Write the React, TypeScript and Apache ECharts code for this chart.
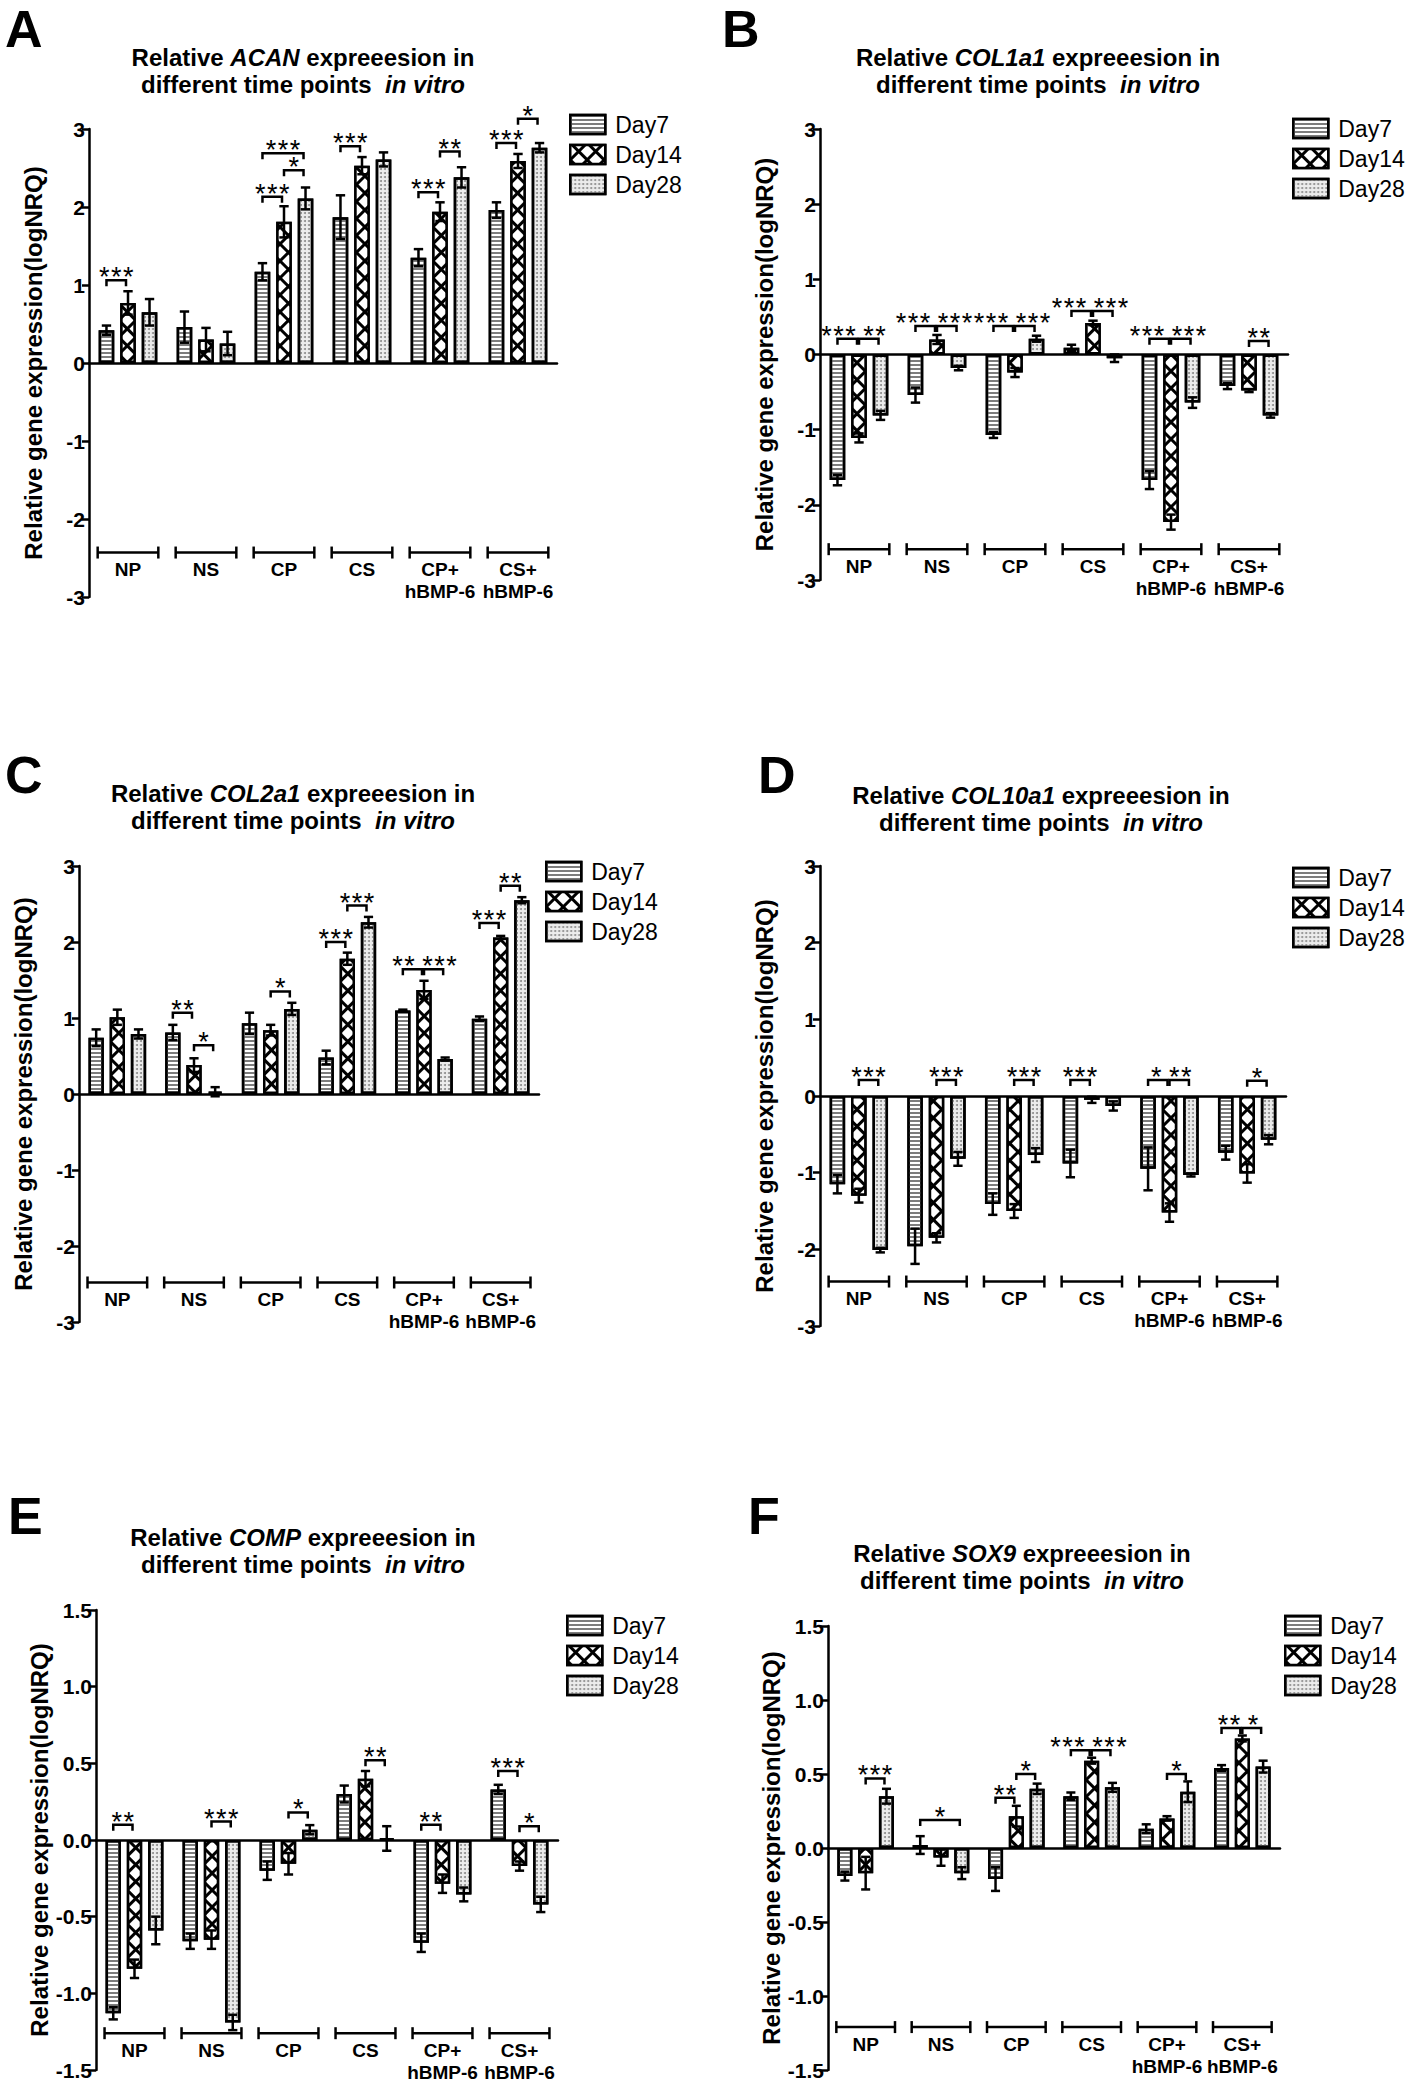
import React, { useEffect, useRef } from 'react';
import * as echarts from 'echarts';

const FONT = '"Liberation Sans", Arial, Helvetica, sans-serif';

const groups = ['NP', 'NS', 'CP', 'CS', 'CP+\nhBMP-6', 'CS+\nhBMP-6'];
const days = ['Day7', 'Day14', 'Day28'];
const ticksWide = ['-3', '-2', '-1', '0', '1', '2', '3'];
const ticksNarrow = ['-1.5', '-1.0', '-0.5', '0.0', '0.5', '1.0', '1.5'];

// A: ACAN
const acanDay7 = [0.42, 0.46, 1.17, 1.87, 1.35, 1.96];
const acanDay14 = [0.77, 0.30, 1.81, 2.53, 1.94, 2.59];
const acanDay28 = [0.65, 0.25, 2.11, 2.61, 2.38, 2.76];
const acanErr7 = [0.06, 0.20, 0.11, 0.28, 0.11, 0.10];
const acanErr14 = [0.15, 0.15, 0.20, 0.11, 0.12, 0.09];
const acanErr28 = [0.17, 0.15, 0.14, 0.09, 0.13, 0.06];
// [group, fromDay, toDay, y, label]
const acanSig: [number, number, number, number, string][] = [
  [0, 0, 1, 1.06, '***'], [2, 0, 1, 2.13, '***'], [2, 1, 2, 2.47, '*'], [2, 0, 2, 2.69, '***'],
  [3, 0, 1, 2.78, '***'], [4, 0, 1, 2.19, '***'], [4, 1, 2, 2.71, '**'], [5, 0, 1, 2.82, '***'], [5, 1, 2, 3.13, '*'],
];

// B: COL1a1
const col1Day7 = [-1.67, -0.54, -1.07, 0.09, -1.67, -0.42];
const col1Day14 = [-1.11, 0.20, -0.24, 0.42, -2.23, -0.48];
const col1Day28 = [-0.81, -0.18, 0.21, -0.05, -0.64, -0.81];
const col1Err7 = [0.07, 0.10, 0.04, 0.04, 0.12, 0.04];
const col1Err14 = [0.06, 0.06, 0.06, 0.03, 0.10, 0.02];
const col1Err28 = [0.06, 0.03, 0.04, 0.05, 0.07, 0.03];
const col1Sig: [number, number, number, number, string][] = [
  [0, 0, 1, 0.21, '***'], [0, 1, 2, 0.21, '**'], [1, 0, 1, 0.38, '***'], [1, 1, 2, 0.38, '***'],
  [2, 0, 1, 0.38, '***'], [2, 1, 2, 0.38, '***'], [3, 0, 1, 0.58, '***'], [3, 1, 2, 0.58, '***'],
  [4, 0, 1, 0.21, '***'], [4, 1, 2, 0.21, '***'], [5, 1, 2, 0.18, '**'],
];

// C: COL2a1
const col2Day7 = [0.74, 0.81, 0.93, 0.48, 1.10, 0.99];
const col2Day14 = [1.01, 0.38, 0.84, 1.78, 1.37, 2.06];
const col2Day28 = [0.79, 0.03, 1.12, 2.26, 0.46, 2.55];
const col2Err7 = [0.11, 0.10, 0.14, 0.09, 0.01, 0.03];
const col2Err14 = [0.10, 0.09, 0.07, 0.08, 0.12, 0.02];
const col2Err28 = [0.06, 0.06, 0.08, 0.07, 0.02, 0.04];
const col2Sig: [number, number, number, number, string][] = [
  [1, 0, 1, 1.07, '**'], [1, 1, 2, 0.64, '*'], [2, 1, 2, 1.35, '*'], [3, 0, 1, 2.0, '***'],
  [3, 1, 2, 2.48, '***'], [4, 0, 1, 1.64, '**'], [4, 1, 2, 1.64, '***'], [5, 0, 1, 2.25, '***'], [5, 1, 2, 2.74, '**'],
];

// D: COL10a1
const col10Day7 = [-1.15, -1.96, -1.41, -0.88, -0.95, -0.74];
const col10Day14 = [-1.30, -1.85, -1.50, -0.05, -1.52, -1.01];
const col10Day28 = [-2.01, -0.82, -0.77, -0.13, -1.03, -0.57];
const col10Err7 = [0.12, 0.23, 0.14, 0.18, 0.28, 0.09];
const col10Err14 = [0.09, 0.06, 0.09, 0.04, 0.12, 0.12];
const col10Err28 = [0.03, 0.09, 0.09, 0.06, 0.02, 0.06];
const col10Sig: [number, number, number, number, string][] = [
  [0, 1, 2, 0.21, '***'], [1, 1, 2, 0.21, '***'], [2, 1, 2, 0.21, '***'], [3, 0, 1, 0.21, '***'],
  [4, 0, 1, 0.21, '*'], [4, 1, 2, 0.21, '**'], [5, 1, 2, 0.2, '*'],
];

// E: COMP
const compDay7 = [-1.13, -0.66, -0.20, 0.30, -0.67, 0.33];
const compDay14 = [-0.84, -0.65, -0.155, 0.40, -0.285, -0.17];
const compDay28 = [-0.59, -1.19, 0.067, 0.01, -0.355, -0.42];
const compErr7 = [0.04, 0.05, 0.06, 0.055, 0.06, 0.03];
const compErr14 = [0.06, 0.06, 0.07, 0.05, 0.06, 0.03];
const compErr28 = [0.09, 0.05, 0.03, 0.08, 0.045, 0.05];
const compSig: [number, number, number, number, string][] = [
  [0, 0, 1, 0.10, '**'], [1, 1, 2, 0.12, '***'], [2, 1, 2, 0.18, '*'], [3, 1, 2, 0.52, '**'],
  [4, 0, 1, 0.10, '**'], [5, 0, 1, 0.45, '***'], [5, 1, 2, 0.09, '*'],
];

// F: SOX9
const sox9Day7 = [-0.19, 0.02, -0.21, 0.35, 0.13, 0.54];
const sox9Day14 = [-0.17, -0.065, 0.215, 0.59, 0.20, 0.74];
const sox9Day28 = [0.35, -0.17, 0.40, 0.41, 0.38, 0.55];
const sox9Err7 = [0.03, 0.06, 0.08, 0.025, 0.03, 0.02];
const sox9Err14 = [0.11, 0.055, 0.07, 0.02, 0.015, 0.02];
const sox9Err28 = [0.05, 0.04, 0.035, 0.03, 0.07, 0.04];
const sox9Sig: [number, number, number, number, string][] = [
  [0, 1, 2, 0.47, '***'], [1, 0, 2, 0.19, '*'], [2, 0, 1, 0.34, '**'], [2, 1, 2, 0.50, '*'],
  [3, 0, 1, 0.66, '***'], [3, 1, 2, 0.66, '***'], [4, 1, 2, 0.50, '*'], [5, 0, 1, 0.81, '**'], [5, 1, 2, 0.81, '*'],
];

const BAR_FRAC = 0.2;
const BAR_GAP = 0.38;
const STAR_STEP = 12;

const panels = [
  { letter: 'A', gene: 'ACAN', values: [acanDay7, acanDay14, acanDay28], errors: [acanErr7, acanErr14, acanErr28], sig: acanSig, groupY: -2.43, min: -3, max: 3, step: 1, ticks: ticksWide,
    grid: { left: 89, top: 129, width: 468, height: 468 }, title: [303, 44], letterPos: [5, 3], legend: [569, 113] },
  { letter: 'B', gene: 'COL1a1', values: [col1Day7, col1Day14, col1Day28], errors: [col1Err7, col1Err14, col1Err28], sig: col1Sig, groupY: -2.59, min: -3, max: 3, step: 1, ticks: ticksWide,
    grid: { left: 820, top: 129, width: 468, height: 451 }, title: [1038, 44], letterPos: [722, 3], legend: [1292, 117] },
  { letter: 'C', gene: 'COL2a1', values: [col2Day7, col2Day14, col2Day28], errors: [col2Err7, col2Err14, col2Err28], sig: col2Sig, groupY: -2.48, min: -3, max: 3, step: 1, ticks: ticksWide,
    grid: { left: 79, top: 866, width: 460, height: 456 }, title: [293, 780], letterPos: [5, 749], legend: [545, 860] },
  { letter: 'D', gene: 'COL10a1', values: [col10Day7, col10Day14, col10Day28], errors: [col10Err7, col10Err14, col10Err28], sig: col10Sig, groupY: -2.42, min: -3, max: 3, step: 1, ticks: ticksWide,
    grid: { left: 820, top: 866, width: 466, height: 460 }, title: [1041, 782], letterPos: [758, 749], legend: [1292, 866] },
  { letter: 'E', gene: 'COMP', values: [compDay7, compDay14, compDay28], errors: [compErr7, compErr14, compErr28], sig: compSig, groupY: -1.26, min: -1.5, max: 1.5, step: 0.5, ticks: ticksNarrow,
    grid: { left: 96, top: 1610, width: 462, height: 460 }, title: [303, 1524], letterPos: [8, 1490], legend: [566, 1614] },
  { letter: 'F', gene: 'SOX9', values: [sox9Day7, sox9Day14, sox9Day28], errors: [sox9Err7, sox9Err14, sox9Err28], sig: sox9Sig, groupY: -1.21, min: -1.5, max: 1.5, step: 0.5, ticks: ticksNarrow,
    grid: { left: 828, top: 1626, width: 452, height: 444 }, title: [1022, 1540], letterPos: [748, 1490], legend: [1284, 1614] },
];

const dayStyles = [
  { color: '#ffffff', decal: { symbol: 'rect', symbolSize: 1, color: '#7d7d7d', dashArrayX: [1, 0], dashArrayY: [2, 2], rotation: 0 } },
  { color: '#000000', decal: { symbol: 'rect', symbolSize: 1, color: '#ffffff', dashArrayX: [9, 3], dashArrayY: [9, 3], rotation: Math.PI / 4 } },
  { color: '#ececec', decal: { symbol: 'circle', symbolSize: 1, color: '#8c8c8c', dashArrayX: [2, 2], dashArrayY: [2, 2], rotation: 0 } },
];

const starWidth = (n: number) => (n - 1) * STAR_STEP + 10;

// horizontal shift of a significance label so that labels of touching brackets do not collide
function labelShift(sig: [number, number, number, number, string][], idx: number, stp: number) {
  const s = sig[idx];
  const center = (t: [number, number, number, number, string]) => ((t[1] + t[2]) / 2) * stp;
  let shift = 0;
  sig.forEach((o, j) => {
    if (j === idx || o[0] !== s[0] || Math.abs(o[3] - s[3]) > 1e-6) return;
    const isRight = o[1] === s[2];
    const isLeft = o[2] === s[1];
    if (!isRight && !isLeft) return;
    const sep = Math.abs(center(o) - center(s));
    const need = (starWidth(s[4].length) + starWidth(o[4].length)) / 2 + 8 - sep;
    if (need > 0) shift += isRight ? -need * 0.6 : need * 0.4;
  });
  return shift;
}

function buildOption() {
  const grid: any[] = [];
  const xAxis: any[] = [];
  const yAxis: any[] = [];
  const title: any[] = [];
  const legend: any[] = [];
  const series: any[] = [];

  panels.forEach((p, pi) => {
    grid.push({ ...p.grid, containLabel: false });
    xAxis.push({
      gridIndex: pi, type: 'category', data: groups,
      axisLine: { show: true, onZero: true, lineStyle: { color: '#000', width: 2.5 } },
      axisTick: { show: false }, axisLabel: { show: false }, splitLine: { show: false },
    });
    yAxis.push({
      gridIndex: pi, type: 'value', min: p.min, max: p.max, interval: p.step,
      axisLine: { show: true, onZero: false, lineStyle: { color: '#000', width: 2.5 } },
      axisTick: { show: true, length: 7, lineStyle: { color: '#000', width: 2.5 } },
      axisLabel: {
        fontSize: 21, fontWeight: 'bold', fontFamily: FONT, color: '#000', margin: 4,
        formatter: (v: number) => p.ticks[Math.round((v - p.min) / p.step)] ?? String(v),
      },
      splitLine: { show: false },
      name: 'Relative gene expression(logNRQ)', nameLocation: 'middle', nameGap: 44,
      nameTextStyle: { fontSize: 24, fontWeight: 'bold', fontFamily: FONT, color: '#000' },
    });
    title.push({
      text: `{n|Relative }{i|${p.gene}}{n| expreeesion in}\n{n|different time points  }{i|in vitro}`,
      left: p.title[0], top: p.title[1], textAlign: 'center', padding: 0,
      textStyle: {
        rich: {
          n: { fontSize: 24, fontWeight: 'bold', fontFamily: FONT, color: '#000', lineHeight: 27 },
          i: { fontSize: 24, fontWeight: 'bold', fontStyle: 'italic', fontFamily: FONT, color: '#000', lineHeight: 27 },
        },
      },
    });
    title.push({
      text: p.letter, left: p.letterPos[0], top: p.letterPos[1], padding: 0,
      textStyle: { fontSize: 52, fontWeight: 'bold', fontFamily: FONT, color: '#000' },
    });
    legend.push({
      data: days, orient: 'vertical', left: p.legend[0], top: p.legend[1], padding: 0,
      itemWidth: 35, itemHeight: 19, itemGap: 7, icon: 'rect', selectedMode: false,
      itemStyle: { borderColor: '#000', borderWidth: 2.5 },
      textStyle: { fontSize: 23, fontFamily: FONT, color: '#000', padding: [0, 0, 0, 5] },
    });

    days.forEach((d, di) => {
      series.push({
        type: 'bar', name: d, xAxisIndex: pi, yAxisIndex: pi,
        data: p.values[di], barWidth: `${BAR_FRAC * 100}%`, barGap: `${BAR_GAP * 100}%`,
        itemStyle: { color: dayStyles[di].color, borderColor: '#000', borderWidth: 2.5, decal: dayStyles[di].decal },
        z: 2, silent: true,
      });
    });

    const errData: number[][] = [];
    for (let s = 0; s < 3; s++) for (let c = 0; c < 6; c++) errData.push([c, s, p.values[s][c], p.errors[s][c]]);
    series.push({
      type: 'custom', xAxisIndex: pi, yAxisIndex: pi, z: 5, silent: true, data: errData,
      renderItem: (_params: any, api: any) => {
        const cat = api.value(0), si = api.value(1), v = api.value(2), e = api.value(3);
        const band = api.size([1, 0])[0];
        const bw = band * BAR_FRAC;
        const off = (si - 1) * bw * (1 + BAR_GAP);
        const top = api.coord([cat, v + e]);
        const bot = api.coord([cat, v - e]);
        const x = top[0] + off;
        const cap = bw * 0.3;
        const st = { stroke: '#000', lineWidth: 2.5 };
        return {
          type: 'group', children: [
            { type: 'line', shape: { x1: x, y1: top[1], x2: x, y2: bot[1] }, style: st },
            { type: 'line', shape: { x1: x - cap, y1: top[1], x2: x + cap, y2: top[1] }, style: st },
            { type: 'line', shape: { x1: x - cap, y1: bot[1], x2: x + cap, y2: bot[1] }, style: st },
          ],
        };
      },
    });

    series.push({
      type: 'custom', xAxisIndex: pi, yAxisIndex: pi, z: 6, silent: true,
      data: p.sig.map((s) => [s[0], s[3]]),
      renderItem: (params: any, api: any) => {
        const s = p.sig[params.dataIndex];
        const band = api.size([1, 0])[0];
        const bw = band * BAR_FRAC;
        const stp = bw * (1 + BAR_GAP);
        const base = api.coord([s[0], s[3]]);
        const x1 = base[0] + (s[1] - 1) * stp;
        const x2 = base[0] + (s[2] - 1) * stp - 2;
        const y = base[1];
        const n = s[4].length;
        const cx = (x1 + x2) / 2 + labelShift(p.sig, params.dataIndex, stp);
        const children: any[] = [
          { type: 'polyline', shape: { points: [[x1, y + 6], [x1, y], [x2, y], [x2, y + 6]] }, style: { stroke: '#000', lineWidth: 2.5, fill: 'none' } },
        ];
        for (let k = 0; k < n; k++) {
          children.push({
            type: 'text', x: cx + (k - (n - 1) / 2) * STAR_STEP, y: y - 3,
            style: { text: '*', fill: '#000', fontSize: 27, fontFamily: FONT, align: 'center', verticalAlign: 'middle' },
          });
        }
        return { type: 'group', children };
      },
    });

    series.push({
      type: 'custom', xAxisIndex: pi, yAxisIndex: pi, z: 6, silent: true,
      data: groups.map((_g, i) => [i, p.groupY]),
      renderItem: (params: any, api: any) => {
        const i = params.dataIndex;
        const band = api.size([1, 0])[0];
        const bw = band * BAR_FRAC;
        const half = (3 * bw + 2 * bw * BAR_GAP) / 2 + 1;
        const c = api.coord([i, p.groupY]);
        const st = { stroke: '#000', lineWidth: 2.5 };
        return {
          type: 'group', children: [
            { type: 'line', shape: { x1: c[0] - half, y1: c[1], x2: c[0] + half, y2: c[1] }, style: st },
            { type: 'line', shape: { x1: c[0] - half, y1: c[1] - 6, x2: c[0] - half, y2: c[1] + 6 }, style: st },
            { type: 'line', shape: { x1: c[0] + half, y1: c[1] - 6, x2: c[0] + half, y2: c[1] + 6 }, style: st },
            { type: 'text', x: c[0], y: c[1] + 6, style: { text: groups[i], fill: '#000', fontSize: 19, fontWeight: 'bold', fontFamily: FONT, align: 'center', verticalAlign: 'top', lineHeight: 22 } },
          ],
        };
      },
    });
  });

  return { animation: false, backgroundColor: '#ffffff', grid, xAxis, yAxis, title, legend, series };
}

export default function App() {
  const ref = useRef<HTMLDivElement>(null);
  useEffect(() => {
    const chart = echarts.init(ref.current as HTMLDivElement, null, { renderer: 'svg' });
    chart.setOption(buildOption() as any);
    return () => chart.dispose();
  }, []);
  return <div ref={ref} style={{ position: 'absolute', left: 0, top: 0, width: 1418, height: 2085, background: '#fff' }} />;
}
